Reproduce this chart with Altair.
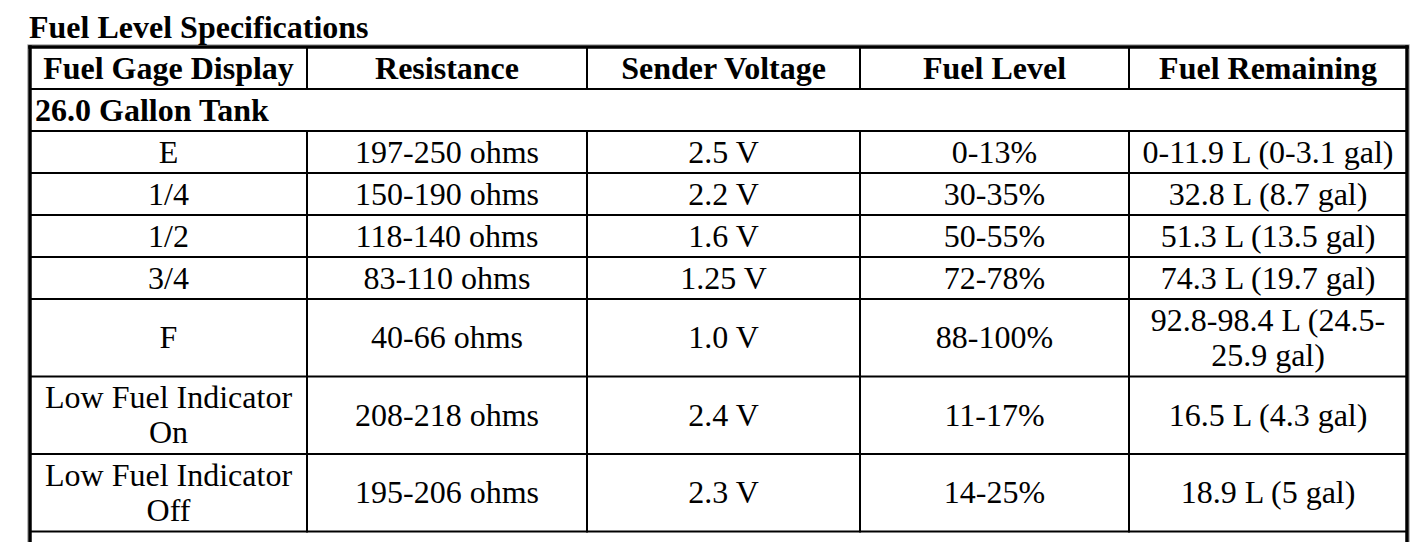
import altair as alt
import pandas as pd

# ---------------- data ----------------
title_text = "Fuel Level Specifications"
headers = ["Fuel Gage Display", "Resistance", "Sender Voltage", "Fuel Level", "Fuel Remaining"]
section_label = "26.0 Gallon Tank"
gauge = ["E", "1/4", "1/2", "3/4", "F", "Low Fuel Indicator\nOn", "Low Fuel Indicator\nOff"]
resistance = ["197-250 ohms", "150-190 ohms", "118-140 ohms", "83-110 ohms", "40-66 ohms",
              "208-218 ohms", "195-206 ohms"]
voltage = ["2.5 V", "2.2 V", "1.6 V", "1.25 V", "1.0 V", "2.4 V", "2.3 V"]
level = ["0-13%", "30-35%", "50-55%", "72-78%", "88-100%", "11-17%", "14-25%"]
remaining = ["0-11.9 L (0-3.1 gal)", "32.8 L (8.7 gal)", "51.3 L (13.5 gal)", "74.3 L (19.7 gal)",
             "92.8-98.4 L (24.5-\n25.9 gal)", "16.5 L (4.3 gal)", "18.9 L (5 gal)"]

# ---------------- layout ----------------
W, H = 1409, 534
FONT = "Liberation Serif"
FS = 32
COL_W = [277, 280, 273, 269, 278]
X0, Y0 = 22, 39
ROW1 = 42.0        # height of a one-line row
ROW_EXTRA = 35.5   # extra height per additional line
LINE_GAP = 35.0    # baseline to baseline
BASE_OFF = 10.5    # baseline offset from a line's centre
THICK, THIN = 3.5, 2.0
SHADOW_OFF = 2.4

col_edges = [X0]
for w in COL_W:
    col_edges.append(col_edges[-1] + w)
col_centers = [(col_edges[i] + col_edges[i + 1]) / 2 for i in range(5)]

columns = [gauge, resistance, voltage, level, remaining]
rows = [[columns[c][r] for c in range(5)] for r in range(len(gauge))]

row_edges = [Y0, Y0 + ROW1, Y0 + 2 * ROW1]
for row in rows:
    n = max(len(s.split("\n")) for s in row)
    row_edges.append(row_edges[-1] + ROW1 + ROW_EXTRA * (n - 1))


def line_items(text, cx, cy):
    parts = text.split("\n")
    n = len(parts)
    return [{"x": cx, "y": cy + BASE_OFF + (k - (n - 1) / 2) * LINE_GAP, "t": p}
            for k, p in enumerate(parts)]


# header text
hdr_items = []
hc = (row_edges[0] + row_edges[1]) / 2
for c, h in enumerate(headers):
    hdr_items += line_items(h, col_centers[c], hc)

# section label
sec_items = [{"x": X0 + 5, "y": (row_edges[1] + row_edges[2]) / 2 + BASE_OFF, "t": section_label}]

# title
title_items = [{"x": X0 - 1, "y": Y0 - 9.5, "t": title_text}]

# body
body_items = []
for r, row in enumerate(rows):
    cy = (row_edges[r + 2] + row_edges[r + 3]) / 2
    for c, s in enumerate(row):
        body_items += line_items(s, col_centers[c], cy)

xl, xr = col_edges[0], col_edges[-1]

# faint grey edge just outside the outer border
shadow = [
    {"x": xl - SHADOW_OFF, "x2": xr + SHADOW_OFF, "y": Y0 - SHADOW_OFF, "y2": Y0 - SHADOW_OFF},
    {"x": xl - SHADOW_OFF, "x2": xl - SHADOW_OFF, "y": Y0 - SHADOW_OFF, "y2": H + 20},
    {"x": xr + SHADOW_OFF, "x2": xr + SHADOW_OFF, "y": Y0 - SHADOW_OFF, "y2": H + 20},
]

# rules
rules = []
rules.append({"x": xl, "x2": xr, "y": Y0, "y2": Y0, "w": THICK})
for y in row_edges[1:]:
    rules.append({"x": xl, "x2": xr, "y": y, "y2": y, "w": THIN})
rules.append({"x": xl, "x2": xl, "y": Y0, "y2": H + 20, "w": THICK})
rules.append({"x": xr, "x2": xr, "y": Y0, "y2": H + 20, "w": THICK})
for xe in col_edges[1:-1]:
    rules.append({"x": xe, "x2": xe, "y": row_edges[0], "y2": row_edges[1], "w": THIN})
    rules.append({"x": xe, "x2": xe, "y": row_edges[2], "y2": row_edges[-1], "w": THIN})

xs = alt.Scale(domain=[0, W], range=[0, W], zero=False, nice=False)
ys = alt.Scale(domain=[0, H], range=[0, H], zero=False, nice=False)

shadow_layer = alt.Chart(pd.DataFrame(shadow)).mark_rule(color="#b4b4b4", strokeWidth=1).encode(
    x=alt.X("x:Q", scale=xs, axis=None),
    x2="x2:Q",
    y=alt.Y("y:Q", scale=ys, axis=None),
    y2="y2:Q",
)

rule_layer = alt.Chart(pd.DataFrame(rules)).mark_rule(color="#000000", strokeCap="square").encode(
    x=alt.X("x:Q", scale=xs, axis=None),
    x2="x2:Q",
    y=alt.Y("y:Q", scale=ys, axis=None),
    y2="y2:Q",
    strokeWidth=alt.StrokeWidth("w:Q", scale=None, legend=None),
)


def text_layer(items, bold, align):
    return alt.Chart(pd.DataFrame(items)).mark_text(
        font=FONT, fontSize=FS, fontWeight="bold" if bold else "normal",
        align=align, baseline="alphabetic", color="#000000",
    ).encode(
        x=alt.X("x:Q", scale=xs, axis=None),
        y=alt.Y("y:Q", scale=ys, axis=None),
        text="t:N",
    )


chart = alt.layer(
    shadow_layer,
    rule_layer,
    text_layer(title_items, True, "left"),
    text_layer(sec_items, True, "left"),
    text_layer(hdr_items, True, "center"),
    text_layer(body_items, False, "center"),
).properties(
    width=W, height=H, padding=0, autosize=alt.AutoSizeParams(type="none"),
    background="white",
).configure_view(stroke=None)

chart.save("out.html", embed_options={"renderer": "svg", "actions": False})
